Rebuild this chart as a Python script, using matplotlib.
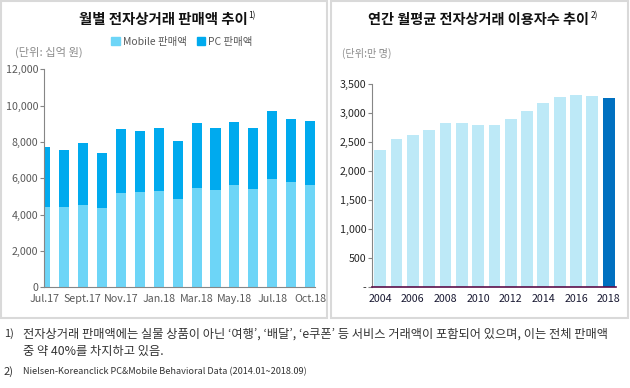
import matplotlib
matplotlib.use("Agg")
import matplotlib.pyplot as plt
from matplotlib.patches import Patch, Rectangle
from matplotlib.ticker import FuncFormatter

plt.rcParams['font.family'] = ['Noto Sans CJK KR', 'DejaVu Sans']

# data - monthly sales (billion won)
months = ["Jul.17", "Aug.17", "Sept.17", "Oct.17", "Nov.17", "Dec.17", "Jan.18", "Feb.18",
          "Mar.18", "Apr.18", "May.18", "Jun.18", "Jul.18", "Aug.18", "Oct.18"]
mobile_sales = [4440, 4440, 4530, 4380, 5190, 5245, 5300, 4860, 5465, 5355, 5630, 5410, 5960, 5795, 5630]
total_sales = [7720, 7555, 7940, 7390, 8710, 8600, 8765, 8050, 9040, 8765, 9095, 8765, 9700, 9260, 9150]
pc_sales = [t - m for t, m in zip(total_sales, mobile_sales)]

# data - yearly monthly-average users (10k)
years = list(range(2004, 2019))
users = [2365, 2555, 2625, 2710, 2830, 2830, 2795, 2795, 2900, 3040, 3175, 3280, 3315, 3300, 3265]

W, H = 630, 388
fig = plt.figure(figsize=(W / 100, H / 100), dpi=100)

def box(x0, y0, x1, y1):
    return [x0 / W, 1 - y1 / H, (x1 - x0) / W, (y1 - y0) / H]

# panel borders
for x0, x1 in [(1, 327), (331, 628)]:
    fig.patches.append(Rectangle((x0 / W, 1 - 318 / H), (x1 - x0) / W, 317 / H,
                                 transform=fig.transFigure, fill=False,
                                 edgecolor="#d9d9d9", lw=1.5))

# ---- left chart
ax1 = fig.add_axes(box(44, 69.3, 315, 287.3))
xs = range(len(months))
ax1.bar(xs, mobile_sales, width=0.53, color="#6dd5f7")
ax1.bar(xs, pc_sales, bottom=mobile_sales, width=0.53, color="#00aaee")
ax1.set_ylim(0, 12000)
ax1.set_xlim(-0.05, 14.25)
ax1.set_yticks(range(0, 12001, 2000))
ax1.yaxis.set_major_formatter(FuncFormatter(lambda v, p: f"{int(v):,}"))
ax1.set_xticks(list(xs)[::2])
ax1.set_xticklabels([months[i] for i in range(0, 15, 2)])
for s in ["top", "right"]:
    ax1.spines[s].set_visible(False)
ax1.spines["left"].set_color("#868686")
ax1.spines["bottom"].set_color("#868686")
ax1.tick_params(axis="y", length=3, color="#868686", labelsize=7.7, labelcolor="#595959", pad=1)
ax1.tick_params(axis="x", length=0, labelsize=7.7, labelcolor="#595959", pad=5)

# ---- right chart
ax2 = fig.add_axes(box(372, 84.3, 616, 286.7))
colors = ["#bde9f7"] * (len(years) - 1) + ["#0070c0"]
ax2.bar(years, users, width=0.72, color=colors)
ax2.set_ylim(0, 3500)
ax2.set_xlim(2003.5, 2018.45)
ax2.set_yticks(range(0, 3501, 500))
ax2.yaxis.set_major_formatter(FuncFormatter(lambda v, p: "-" if v == 0 else f"{int(v):,}"))
ax2.set_xticks(years[::2])
for s in ["top", "right"]:
    ax2.spines[s].set_visible(False)
ax2.spines["left"].set_color("#868686")
ax2.spines["bottom"].set_color("#5c0f4a")
ax2.spines["bottom"].set_linewidth(1.2)
ax2.tick_params(axis="y", length=3, color="#868686", labelsize=7.7, labelcolor="#262626", pad=1)
ax2.tick_params(axis="x", length=0, labelsize=7.7, labelcolor="#1a1a33", pad=5)

# titles
t1 = fig.text(163 / W, 1 - 20 / H, "월별 전자상거래 판매액 추이", ha="center", va="center",
              fontsize=10.4, fontweight="bold", color="#111111")
t2 = fig.text(479 / W, 1 - 20 / H, "연간 월평균 전자상거래 이용자수 추이", ha="center", va="center",
              fontsize=10.2, fontweight="bold", color="#111111")
fig.canvas.draw()
r = fig.canvas.get_renderer()
for t, sup in [(t1, "1)"), (t2, "2)")]:
    bb = t.get_window_extent(r)
    fig.text(bb.x1 / W + 1 / W, 1 - 16 / H, sup, ha="left", va="center", fontsize=6, color="#111111")

# legend
handles = [Patch(color="#6dd5f7", label="Mobile 판매액"), Patch(color="#00aaee", label="PC 판매액")]
fig.legend(handles=handles, loc="center", bbox_to_anchor=(182 / W, 1 - 42 / H), ncol=2,
           frameon=False, fontsize=7.5, labelcolor="#595959", handlelength=0.8, handleheight=0.8,
           handletextpad=0.3, columnspacing=1.0)

# units
fig.text(15 / W, 1 - 52 / H, "(단위: 십억 원)", ha="left", va="center", fontsize=8.1, color="#8c8c8c")
fig.text(342 / W, 1 - 53 / H, "(단위:만 명)", ha="left", va="center", fontsize=7.3, color="#8c8c8c")

# footnotes
fn_color = "#333333"
fig.text(4 / W, 1 - 334 / H, "1)", ha="left", va="center", fontsize=8, color=fn_color)
fig.text(23 / W, 1 - 334 / H,
         "전자상거래 판매액에는 실물 상품이 아닌 ‘여행’, ‘배달’, ‘e쿠폰’ 등 서비스 거래액이 포함되어 있으며, 이는 전체 판매액",
         ha="left", va="center", fontsize=8.8, color=fn_color)
fig.text(23 / W, 1 - 351 / H, "중 약 40%를 차지하고 있음.", ha="left", va="center", fontsize=8.8, color=fn_color)
fig.text(4 / W, 1 - 372 / H, "2)", ha="left", va="center", fontsize=8, color=fn_color)
fig.text(23 / W, 1 - 372 / H, "Nielsen-Koreanclick PC&Mobile Behavioral Data (2014.01~2018.09)",
         ha="left", va="center", fontsize=6.6, color=fn_color)

fig.savefig("out.png", dpi=100)
